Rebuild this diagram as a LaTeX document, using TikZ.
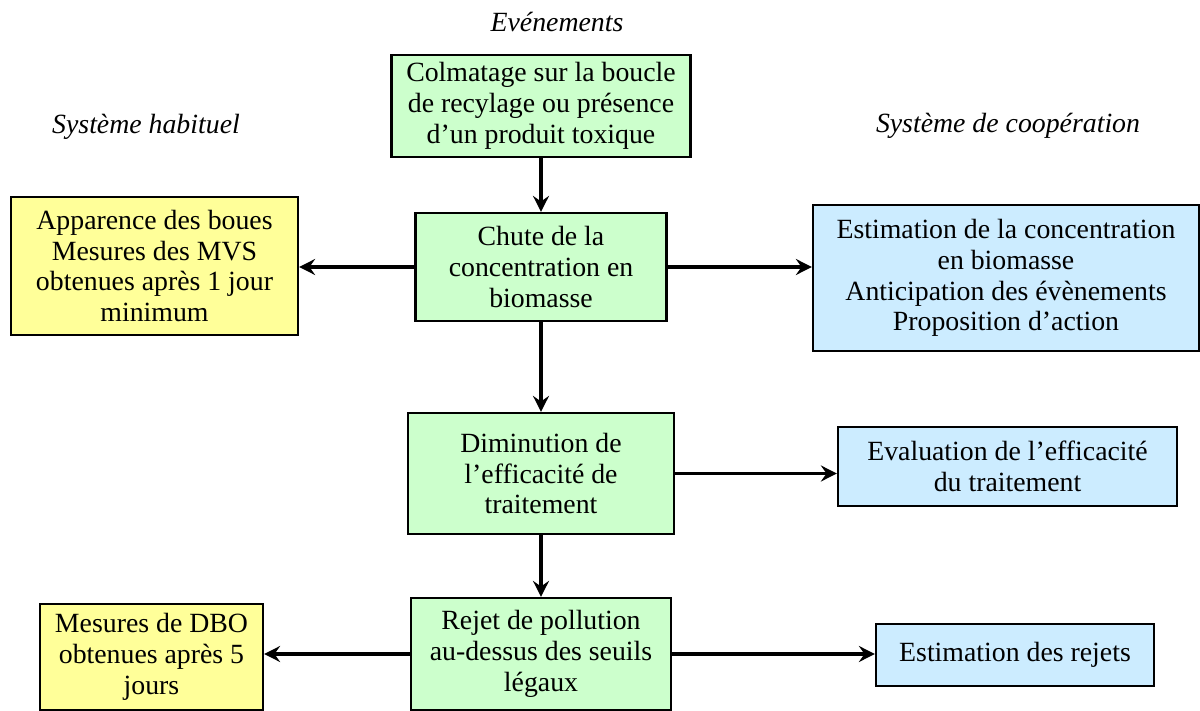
\documentclass[tikz,border=0pt]{standalone}
\usepackage{fontspec}
\setmainfont{Liberation Serif}
\usetikzlibrary{arrows.meta}
\definecolor{evgreen}{RGB}{204,255,204}
\definecolor{usyellow}{RGB}{255,255,153}
\definecolor{coblue}{RGB}{204,236,255}

\begin{document}
\begin{tikzpicture}[->,>={Stealth[length=8pt,width=8pt,inset=2.8pt]},x=0.5pt,y=-0.5pt,
line width=1.6pt,
box/.style={draw,line width=1.1pt,align=center,inner sep=0pt,font=\fontsize{13.9}{15.4}\selectfont},
event node/.style={box,fill=evgreen},
usual node/.style={box,fill=usyellow},
coop node/.style={box,fill=coblue},
title node/.style={font=\fontsize{13.9}{15.4}\selectfont\itshape}]
\useasboundingbox (0,0) rectangle (1200,711);

% Titles
  \node[title node] (evenements) at (557,22) {Evénements};
  \node[title node] (habituel) at (146,127) {Système habituel};
  \node[title node] (cooperation) at (1008,126) {Système de coopération};

% Main column
  \node[event node,minimum width=149.5pt,minimum height=51pt] (colmatage) at (541,106)
    {Colmatage sur la boucle\\de recylage ou présence\\d’un produit toxique};
  \node[event node,minimum width=125.5pt,minimum height=54pt] (chute) at (541,267)
    {Chute de la\\concentration en\\biomasse};
  \node[event node,minimum width=133pt,minimum height=60.5pt] (diminution) at (541,473.5)
    {Diminution de\\l’efficacité de\\traitement};
  \node[event node,minimum width=130pt,minimum height=56pt] (rejet) at (541,654)
    {Rejet de pollution\\au-dessus des seuils\\légaux};

% Usual system (left)
  \node[usual node,minimum width=143.5pt,minimum height=69pt] (apparence) at (154.5,266)
    {Apparence des boues\\Mesures des MVS\\obtenues après 1 jour\\minimum};
  \node[usual node,minimum width=111.5pt,minimum height=53pt] (dbo) at (151.5,657)
    {Mesures de DBO\\obtenues après 5\\jours};

% Cooperation system (right)
  \node[coop node,minimum width=193pt,minimum height=73pt] (estimation) at (1006,278)
    {Estimation de la concentration\\en biomasse\\Anticipation des évènements\\Proposition d’action};
  \node[coop node,minimum width=169.5pt,minimum height=39.5pt] (evaluation) at (1007.5,466.5)
    {Evaluation de l’efficacité\\du traitement};
  \node[coop node,minimum width=139pt,minimum height=31pt] (rejets) at (1015,655)
    {Estimation des rejets};

% Arrows
  \path
    (colmatage) edge (chute)
    (chute) edge (diminution)
    (diminution) edge (rejet)

    (chute.west) edge (chute.west -| apparence.east)
    (chute.east) edge (chute.east -| estimation.west)
    (diminution.east) edge (diminution.east -| evaluation.west)
    (rejet.west) edge (rejet.west -| dbo.east)
    (rejet.east) edge (rejet.east -| rejets.west);

\end{tikzpicture}
\end{document}
